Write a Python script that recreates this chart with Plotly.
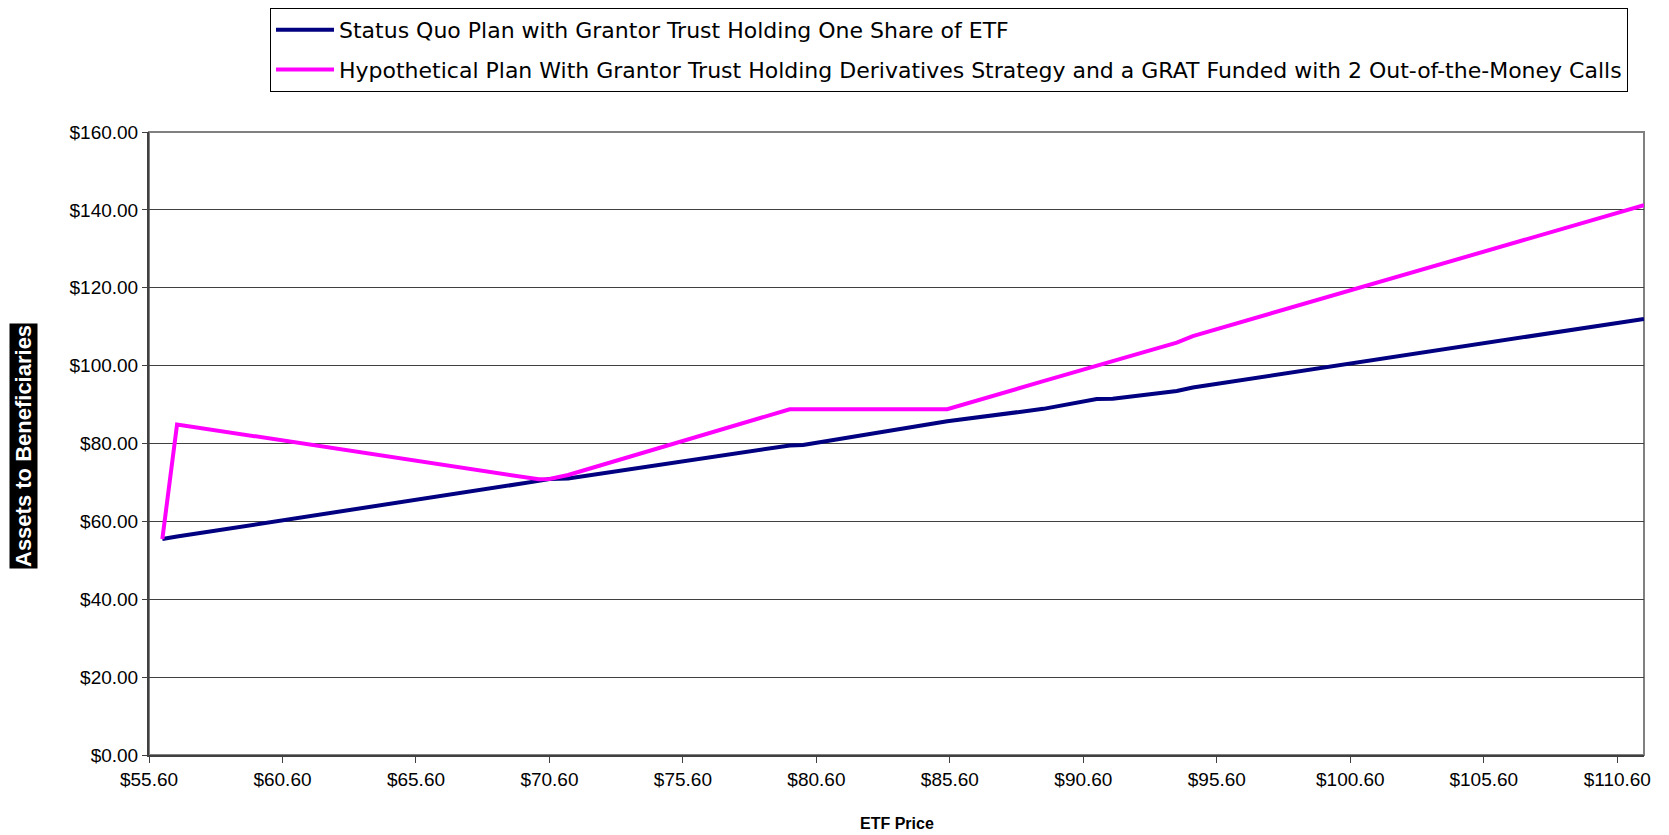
import plotly.graph_objects as go

# ---- data ----
etf_price = [56.1, 56.65, 70.2, 70.6, 71.3, 79.6, 80.1, 85.5, 89.1, 91.1, 91.7, 94.1, 94.7, 111.6]
status_quo = [55.5, 56.1, 70.4, 70.9, 71.0, 79.5, 79.6, 85.7, 88.9, 91.4, 91.5, 93.5, 94.4, 112.0]
hypothetical = [55.5, 84.9, 70.8, 70.9, 71.9, 88.8, 88.8, 88.8, 96.0, 100.0, 101.2, 105.9, 107.6, 141.2]

name_status = "Status Quo Plan with Grantor Trust Holding One Share of ETF"
name_hypo = ("Hypothetical Plan With Grantor Trust Holding Derivatives Strategy and a GRAT "
             "Funded with 2 Out-of-the-Money Calls")

x_title = "ETF Price"
y_title = "Assets to Beneficiaries"

W, H = 1669, 835
L, R, T, B = 149, 25, 132, 80
PW, PH = W - L - R, H - T - B

fig = go.Figure()
fig.add_trace(go.Scatter(
    x=etf_price, y=status_quo, mode="lines", name=name_status,
    line=dict(color="#000080", width=4), legendgroup="a",
))
fig.add_trace(go.Scatter(
    x=etf_price, y=hypothetical, mode="lines", name=name_hypo,
    line=dict(color="#FF00FF", width=4), legendgroup="b",
))

tick_font = dict(family="Liberation Sans, Arial, sans-serif", size=19, color="black")

fig.update_layout(
    width=W, height=H,
    margin=dict(l=L, r=R, t=T, b=B, autoexpand=False),
    paper_bgcolor="white", plot_bgcolor="white",
    font=dict(family="Liberation Sans, Arial, sans-serif", color="black"),
    showlegend=True,
    legend=dict(
        x=(270 - L) / PW, y=(H - B - 8) / PH,
        xanchor="left", yanchor="top",
        bordercolor="black", borderwidth=1, bgcolor="white",
        font=dict(family="DejaVu Sans, sans-serif", size=22, color="black"),
        tracegroupgap=8, itemwidth=58,
    ),
    xaxis=dict(
        range=[55.6, 111.6], tick0=55.6, dtick=5,
        tickprefix="$", tickformat=".2f",
        showgrid=False, zeroline=False,
        showline=True, linecolor="#404040", linewidth=2,
        ticks="outside", ticklen=6, tickcolor="#404040",
        tickfont=tick_font,
    ),
    yaxis=dict(
        range=[0, 160], dtick=20,
        tickprefix="$", tickformat=".2f",
        showgrid=True, gridcolor="#404040", gridwidth=1,
        zeroline=False,
        showline=True, linecolor="#404040", linewidth=2,
        ticks="outside", ticklen=5, tickcolor="#404040",
        tickfont=tick_font,
    ),
    shapes=[dict(
        type="rect", xref="paper", yref="paper", x0=0, x1=1, y0=0, y1=1,
        line=dict(color="#808080", width=2), layer="below",
    )],
    annotations=[
        dict(
            text="<b>" + y_title + "</b>", textangle=-90,
            xref="paper", yref="paper",
            x=(23 - L) / PW, y=(H - B - 446) / PH,
            xanchor="center", yanchor="middle", showarrow=False,
            bgcolor="black", borderpad=1,
            font=dict(family="Liberation Sans Narrow, Arial Narrow, sans-serif", size=22, color="white"),
        ),
        dict(
            text="<b>" + x_title + "</b>",
            xref="paper", yref="paper",
            x=0.5, y=(H - B - 823) / PH,
            xanchor="center", yanchor="middle", showarrow=False,
            font=dict(family="Liberation Sans, Arial, sans-serif", size=16, color="black"),
        ),
    ],
)

fig.write_html("out.html")
